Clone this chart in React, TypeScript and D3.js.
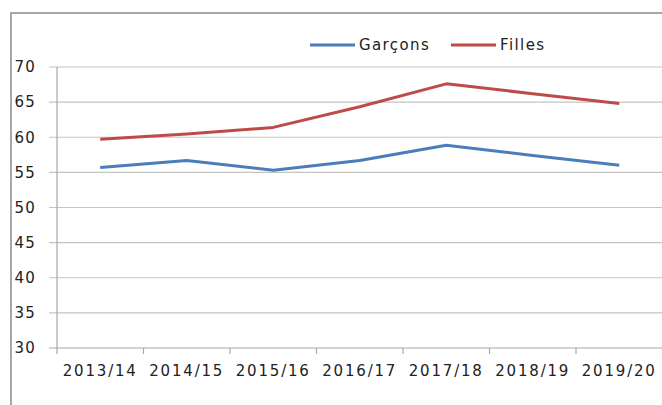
import React from 'react';
import * as d3 from 'd3';

const years = ['2013/14', '2014/15', '2015/16', '2016/17', '2017/18', '2018/19', '2019/20'];
const garcons = [55.7, 56.7, 55.3, 56.7, 58.85, 57.4, 56.0];
const filles = [59.7, 60.45, 61.4, 64.35, 67.6, 66.2, 64.8];
const yTicks = [30, 35, 40, 45, 50, 55, 60, 65, 70];

const series = [
  { name: 'Garçons', values: garcons, color: '#4a7ebb' },
  { name: 'Filles', values: filles, color: '#be4b48' },
];

const W = 662;
const H = 405;
const left = 57;
const right = 662.5;
const top = 67;
const bottom = 348;
const font = 'DejaVu Sans, Verdana, sans-serif';

const App = () => {
  const x = d3.scaleBand().domain(years).range([left, right]);
  const y = d3.scaleLinear().domain([30, 70]).range([bottom, top]);
  const line = d3
    .line<number>()
    .x((d, i) => (x(years[i]) as number) + x.bandwidth() / 2)
    .y((d) => y(d));

  // tick marks sit on the band boundaries
  const bounds = years.map((yr) => x(yr) as number).concat([right]);

  return (
    <div style={{ position: 'absolute', left: 0, top: 0 }}>
      <svg width={W} height={H} style={{ display: 'block' }}>
        <rect x={0} y={0} width={W} height={H} fill="#fff" />
        <rect x={11} y={13} width={W + 10} height={H + 10} fill="none" stroke="#8a8a8a" strokeWidth={1.5} />

        {yTicks.map((t) => (
          <g key={t}>
            {t > 30 && <line x1={49} x2={W} y1={y(t)} y2={y(t)} stroke="#c4c4c4" strokeWidth={1.2} />}
            <text
              x={36}
              y={y(t)}
              dy="0.35em"
              textAnchor="end"
              fontFamily={font}
              fontSize={15}
              letterSpacing={1.2}
              fill="#222"
            >
              {t}
            </text>
          </g>
        ))}

        <line x1={left} x2={left} y1={top} y2={bottom} stroke="#a8a8a8" strokeWidth={1.2} />
        <line x1={49} x2={W} y1={bottom} y2={bottom} stroke="#a8a8a8" strokeWidth={1.2} />
        {bounds.map((b, i) => (
          <line key={i} x1={b} x2={b} y1={bottom} y2={bottom + 6} stroke="#a8a8a8" strokeWidth={1.2} />
        ))}

        {years.map((yr) => (
          <text
            key={yr}
            x={(x(yr) as number) + x.bandwidth() / 2}
            y={376}
            textAnchor="middle"
            fontFamily={font}
            fontSize={15}
            letterSpacing={1.8}
            fill="#222"
          >
            {yr}
          </text>
        ))}

        {series.map((s) => (
          <path
            key={s.name}
            d={line(s.values) || ''}
            fill="none"
            stroke={s.color}
            strokeWidth={3}
            strokeLinejoin="round"
          />
        ))}

        {series.map((s, i) => {
          const lx = i === 0 ? 310 : 451;
          return (
            <g key={s.name}>
              <line x1={lx} x2={lx + 45} y1={45} y2={45} stroke={s.color} strokeWidth={3} />
              <text
                x={lx + 49}
                y={45}
                dy="0.35em"
                fontFamily={font}
                fontSize={15}
                letterSpacing={1.4}
                fill="#222"
              >
                {s.name}
              </text>
            </g>
          );
        })}
      </svg>
    </div>
  );
};

export default App;
